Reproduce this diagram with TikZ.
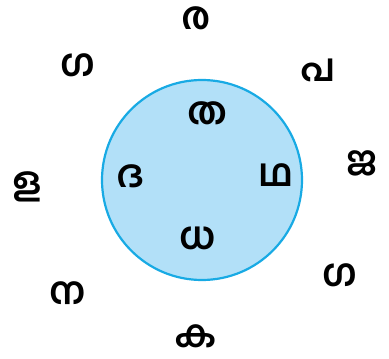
\documentclass[tikz,border=0pt]{standalone}
\usepackage{fontspec}
\usepackage{xcolor}
\newfontfamily\malfont[Script=Malayalam]{Hind Kochi}
\definecolor{ringblue}{RGB}{24,170,228}
\definecolor{discblue}{RGB}{178,224,248}
\tikzset{
  letter/.style={font=\malfont\bfseries\fontsize{38}{40}\selectfont, inner sep=0pt}
}
\begin{document}
\begin{tikzpicture}[x=1pt,y=1pt]
\useasboundingbox (0,0) rectangle (389,359);
\fill[discblue] (202,179) circle (100);
\draw[ringblue, line width=2.2pt] (202,179) circle (100);
% letters inside the disc
\node[letter] (tha) at (207,246) {ത};
\node[letter] (da) at (131,183) {ദ};
\node[letter] (thha) at (276,184) {ഥ};
\node[letter] (dha) at (198,121) {ധ};
% letters round the disc
\node[letter] (ra) at (196,341) {ര};
\node[letter] (gaone) at (78,294) {ഗ};
\node[letter] (pa) at (318,289) {പ};
\node[letter] (lla) at (27,172) {ള};
\node[letter] (ja) at (362,196) {ജ};
\node[letter] (na) at (68,66) {ന};
\node[letter] (gatwo) at (340,84) {ഗ};
\node[letter] (ka) at (196,23) {ക};
\end{tikzpicture}
\end{document}
